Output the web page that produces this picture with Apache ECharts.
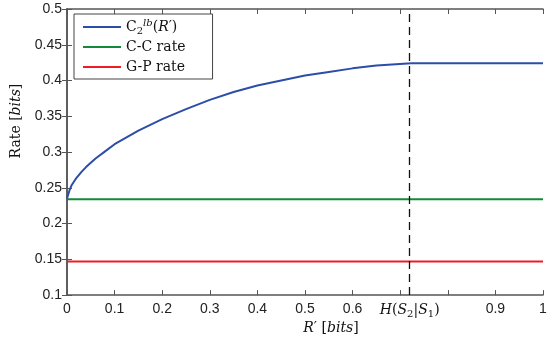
<!DOCTYPE html>
<html>
<head>
<meta charset="utf-8">
<script src="https://cdn.jsdelivr.net/npm/echarts@6/dist/echarts.min.js"></script>
<style>
html,body{margin:0;padding:0;background:#fff;}
#c{width:550px;height:340px;}
</style>
</head>
<body>
<div id="c"></div>
<script>
// ---- data ----
const xCurve = [0, 0.005, 0.01, 0.02, 0.03, 0.04, 0.06, 0.08, 0.1, 0.15, 0.2, 0.25, 0.3, 0.35, 0.4, 0.45, 0.5, 0.55, 0.6, 0.65, 0.7235, 1];
const yCurve = [0.235, 0.246, 0.254, 0.264, 0.272, 0.279, 0.291, 0.301, 0.311, 0.330, 0.346, 0.360, 0.373, 0.384, 0.393, 0.400, 0.407, 0.412, 0.417, 0.421, 0.424, 0.424];
const xRange = [0, 1];
const ccRate = [0.234, 0.234];
const gpRate = [0.147, 0.147];
const hCond = 0.7235; // H(S2|S1)
const seriesNames = ['C2lb', 'C-C rate', 'G-P rate'];
const hiddenXTicks = [0.7, 0.8];

const serif = 'DejaVu Serif';
const sans = 'Liberation Sans';
const axisColor = '#555';

const chart = echarts.init(document.getElementById('c'), null, {renderer: 'canvas'});

const zip = (xs, ys) => xs.map((x, i) => [x, ys[i]]);

const baseX = {
  type: 'value', min: 0, max: 1, interval: 0.1, gridIndex: 0,
  axisLine: {show: true, lineStyle: {color: axisColor, width: 1.5}},
  axisTick: {show: true, inside: true, length: 5, lineStyle: {color: axisColor, width: 1}},
  splitLine: {show: false}
};
const baseY = {
  type: 'value', min: 0.1, max: 0.5, interval: 0.05, gridIndex: 0,
  axisLine: {show: true, lineStyle: {color: axisColor, width: 1.5}},
  axisTick: {show: true, inside: true, length: 5, lineStyle: {color: axisColor, width: 1}},
  splitLine: {show: false}
};

const option = {
  animation: false,
  backgroundColor: '#fff',
  grid: {left: 67, right: 7, top: 9, bottom: 40, containLabel: false},
  legend: {
    orient: 'vertical', left: 74, top: 14,
    padding: [4, 27, 3, 9],
    backgroundColor: '#fff',
    borderColor: '#444', borderWidth: 1, borderRadius: 0,
    itemWidth: 38, itemHeight: 2, itemGap: 2,
    icon: 'rect',
    data: seriesNames,
    formatter: function (name) {
      if (name === 'C2lb') return '{n|C}{sub|2}{sup|lb}{n|(}{i|R}{n|′)}';
      return '{n|' + name + '}';
    },
    textStyle: {
      fontFamily: serif, fontSize: 14, color: '#111', lineHeight: 18,
      rich: {
        n: {fontFamily: serif, fontSize: 14, color: '#111', lineHeight: 18},
        i: {fontFamily: serif, fontSize: 14, fontStyle: 'italic', color: '#111', lineHeight: 18},
        sub: {fontFamily: serif, fontSize: 10, color: '#111', verticalAlign: 'bottom', lineHeight: 18},
        sup: {fontFamily: serif, fontSize: 10, fontStyle: 'italic', color: '#111', verticalAlign: 'top', lineHeight: 18}
      }
    }
  },
  xAxis: [
    Object.assign({}, baseX, {
      position: 'bottom',
      name: '{i|R}{n|′ [}{i|bits}{n|]}',
      nameLocation: 'middle', nameGap: 17,
      nameTextStyle: {
        padding: [0, 0, 0, 52],
        rich: {
          n: {fontFamily: serif, fontSize: 14, color: '#111'},
          i: {fontFamily: serif, fontSize: 14, fontStyle: 'italic', color: '#111'}
        }
      },
      axisLabel: {
        show: true, margin: 7, fontFamily: sans, fontSize: 14, color: '#222',
        formatter: function (v) {
          for (const h of hiddenXTicks) if (Math.abs(v - h) < 1e-6) return '';
          return String(Math.round(v * 10) / 10);
        }
      }
    }),
    Object.assign({}, baseX, {position: 'top', axisLabel: {show: false}})
  ],
  yAxis: [
    Object.assign({}, baseY, {
      position: 'left',
      name: '{n|Rate [}{i|bits}{n|]}',
      nameLocation: 'middle', nameGap: 42,
      nameTextStyle: {
        padding: [0, 0, 0, 62],
        rich: {
          n: {fontFamily: serif, fontSize: 14, color: '#111'},
          i: {fontFamily: serif, fontSize: 14, fontStyle: 'italic', color: '#111'}
        }
      },
      axisLabel: {
        show: true, margin: 5, fontFamily: sans, fontSize: 14, color: '#222',
        formatter: function (v) { return String(Math.round(v * 100) / 100); }
      }
    }),
    Object.assign({}, baseY, {position: 'right', axisLabel: {show: false}})
  ],
  series: [
    {
      name: seriesNames[0], type: 'line', xAxisIndex: 0, yAxisIndex: 0,
      data: zip(xCurve, yCurve), symbol: 'none', smooth: false,
      lineStyle: {color: '#2c4ea8', width: 2}, itemStyle: {color: '#2c4ea8'},
      z: 3,
      markLine: {
        silent: true, symbol: 'none',
        lineStyle: {color: '#111', type: [8, 5], width: 1.3},
        label: {
          show: true, position: 'start', distance: 6,
          formatter: '{i|H}{n|(}{i|S}{s|2}{n||}{i|S}{s|1}{n|)}',
          rich: {
            n: {fontFamily: serif, fontSize: 14, color: '#111', lineHeight: 18},
            i: {fontFamily: serif, fontSize: 14, fontStyle: 'italic', color: '#111', lineHeight: 18},
            s: {fontFamily: serif, fontSize: 10, color: '#111', verticalAlign: 'bottom', lineHeight: 18}
          }
        },
        data: [{xAxis: hCond}]
      }
    },
    {
      name: seriesNames[1], type: 'line', xAxisIndex: 0, yAxisIndex: 0,
      data: zip(xRange, ccRate), symbol: 'none',
      lineStyle: {color: '#128a3a', width: 2}, itemStyle: {color: '#128a3a'}, z: 2
    },
    {
      name: seriesNames[2], type: 'line', xAxisIndex: 0, yAxisIndex: 0,
      data: zip(xRange, gpRate), symbol: 'none',
      lineStyle: {color: '#ee1c25', width: 2}, itemStyle: {color: '#ee1c25'}, z: 2
    }
  ]
};
chart.setOption(option);
</script>
</body>
</html>
